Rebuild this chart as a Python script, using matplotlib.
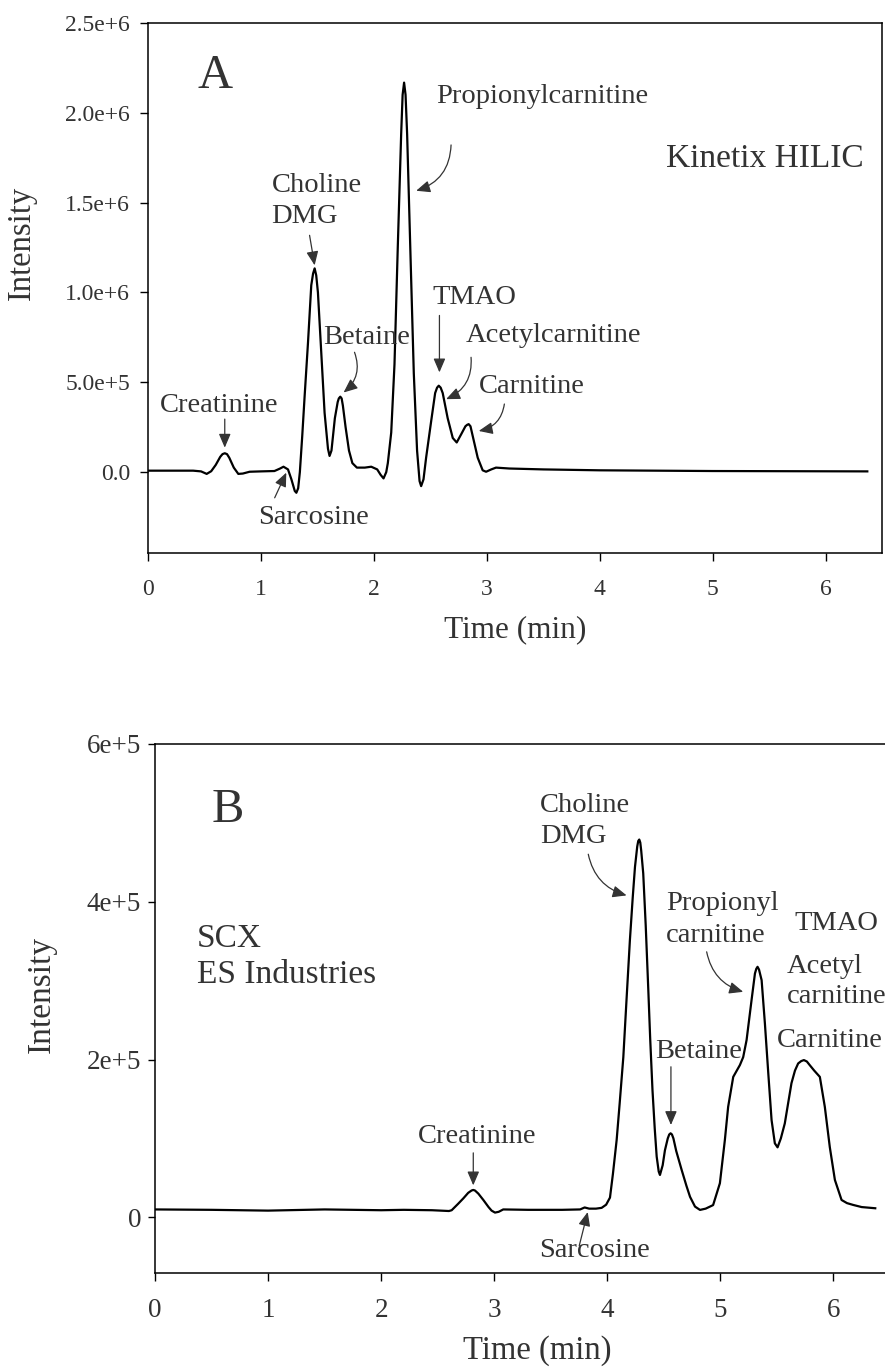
import numpy as np
import matplotlib
matplotlib.use("Agg")
import matplotlib.pyplot as plt

plt.rcParams['font.family'] = ['Liberation Serif', 'DejaVu Serif']

# --- Panel A: Kinetix HILIC (time in min, intensity in 1e6) ---
time_a = [0.00, 0.20, 0.40, 0.47, 0.52, 0.56, 0.60, 0.64, 0.66, 0.68, 0.70, 0.72, 0.76, 0.80, 0.84,
          0.90, 1.00, 1.12, 1.17, 1.20, 1.24, 1.27, 1.30, 1.314, 1.33, 1.345, 1.366, 1.387,
          1.417, 1.446, 1.462, 1.476, 1.49, 1.505, 1.535, 1.564, 1.594, 1.608, 1.625, 1.655, 1.68,
          1.69, 1.703, 1.715, 1.726, 1.75, 1.78, 1.81, 1.85, 1.92, 1.977, 2.03, 2.06, 2.086, 2.11,
          2.124, 2.154, 2.183, 2.212, 2.242, 2.255, 2.268, 2.281, 2.295, 2.325, 2.354, 2.383,
          2.405, 2.419, 2.44, 2.463, 2.507, 2.543, 2.56, 2.575, 2.592, 2.61, 2.654, 2.699, 2.734,
          2.773, 2.811, 2.826, 2.84, 2.856, 2.876, 2.92, 2.964, 2.994, 3.04, 3.082, 3.2, 3.5,
          4.0, 5.0, 6.37]
inten_a = [0.008, 0.008, 0.008, 0.004, -0.010, 0.005, 0.040, 0.085, 0.100, 0.105, 0.100, 0.080, 0.025, -0.010, -0.008,
           0.002, 0.004, 0.006, 0.020, 0.030, 0.015, -0.040, -0.105, -0.115, -0.09, 0.00, 0.20, 0.42,
           0.72, 1.04, 1.105, 1.134, 1.095, 1.00, 0.66, 0.33, 0.13, 0.09, 0.12, 0.30, 0.39,
           0.41, 0.42, 0.41, 0.37, 0.25, 0.12, 0.05, 0.025, 0.025, 0.030, 0.015, -0.015, -0.035, 0.00,
           0.05, 0.22, 0.60, 1.25, 1.88, 2.10, 2.168, 2.10, 1.88, 1.20, 0.55, 0.12,
           -0.05, -0.078, -0.04, 0.08, 0.28, 0.44, 0.47, 0.481, 0.47, 0.44, 0.30, 0.19, 0.165,
           0.21, 0.255, 0.263, 0.267, 0.255, 0.20, 0.08, 0.01, 0.002, 0.015, 0.025, 0.02, 0.015,
           0.01, 0.006, 0.004]

# label text, x, y (baseline, 1e6)
labels_a = [("Creatinine", 0.105, 0.332), ("Sarcosine", 0.974, -0.291),
            ("Choline", 1.093, 1.560), ("DMG", 1.093, 1.384),
            ("Betaine", 1.549, 0.714), ("Propionylcarnitine", 3.487, 2.055),
            ("TMAO", 2.522, 0.937), ("Acetylcarnitine", 2.813, 0.723),
            ("Carnitine", 2.928, 0.443)]
# arrows: tail (x, y), head (x, y), curvature
arrows_a = [((0.680, 0.295), (0.680, 0.136), 0.0),
            ((1.122, -0.143), (1.225, -0.003), 0.0),
            ((1.431, 1.318), (1.476, 1.151), 0.0),
            ((1.829, 0.667), (1.732, 0.443), -0.35),
            ((2.684, 1.821), (2.375, 1.566), -0.35),
            ((2.581, 0.872), (2.581, 0.555), 0.0),
            ((2.861, 0.639), (2.640, 0.406), -0.35),
            ((3.156, 0.379), (2.929, 0.229), -0.35)]

# --- Panel B: SCX ES Industries (time in min, intensity in 1e5) ---
time_b = [0.00, 0.5, 1.0, 1.5, 2.0, 2.2, 2.45, 2.6, 2.624, 2.68, 2.727, 2.77, 2.80, 2.815, 2.83,
          2.86, 2.904, 2.95, 2.977, 3.007, 3.04, 3.08, 3.3, 3.6, 3.76, 3.80, 3.84, 3.90, 3.95, 3.99,
          4.024, 4.05, 4.083, 4.11, 4.142, 4.17, 4.20, 4.225, 4.245, 4.265, 4.274, 4.283, 4.292,
          4.30, 4.318, 4.34, 4.363, 4.38, 4.40, 4.42, 4.437, 4.455, 4.466, 4.49, 4.51, 4.535,
          4.548, 4.56, 4.572, 4.585, 4.61, 4.658, 4.70, 4.732, 4.776, 4.82, 4.87, 4.936, 4.996,
          5.04, 5.069, 5.114, 5.173, 5.202, 5.232, 5.276, 5.306, 5.318, 5.329, 5.342, 5.365,
          5.394, 5.424, 5.453, 5.482, 5.506, 5.535, 5.57, 5.60, 5.629, 5.66, 5.688, 5.715, 5.739,
          5.765, 5.79, 5.83, 5.88, 5.924, 5.968, 6.013, 6.072, 6.12, 6.175, 6.25, 6.37]
inten_b = [0.10, 0.095, 0.085, 0.10, 0.09, 0.095, 0.09, 0.08, 0.09, 0.17, 0.24, 0.31, 0.34, 0.347, 0.34,
           0.30, 0.22, 0.13, 0.085, 0.06, 0.07, 0.10, 0.095, 0.095, 0.10, 0.125, 0.11, 0.11, 0.12, 0.16,
           0.25, 0.55, 0.98, 1.45, 2.03, 2.75, 3.51, 4.05, 4.44, 4.70, 4.77, 4.788, 4.75,
           4.65, 4.36, 3.70, 2.88, 2.25, 1.61, 1.12, 0.77, 0.58, 0.537, 0.66, 0.85, 1.00,
           1.05, 1.065, 1.05, 1.00, 0.84, 0.60, 0.40, 0.26, 0.136, 0.094, 0.11, 0.155, 0.432,
           0.98, 1.40, 1.78, 1.93, 2.03, 2.246, 2.753, 3.09, 3.15, 3.175, 3.14, 3.006,
           2.458, 1.825, 1.233, 0.938, 0.887, 1.00, 1.19, 1.45, 1.70, 1.86, 1.95, 1.98, 1.993,
           1.975, 1.93, 1.86, 1.78, 1.40, 0.89, 0.474, 0.22, 0.18, 0.157, 0.13, 0.115]

labels_b = [("Creatinine", 2.328, 0.945), ("Sarcosine", 3.393, -0.50),
            ("Choline", 3.402, 5.139), ("DMG", 3.402, 4.739),
            ("Propionyl", 4.519, 3.893), ("carnitine", 4.519, 3.491),
            ("TMAO", 5.659, 3.639), ("Acetyl", 5.585, 3.091), ("carnitine", 5.585, 2.711),
            ("Carnitine", 5.497, 2.162), ("Betaine", 4.421, 2.015)]
arrows_b = [((2.815, 0.817), (2.815, 0.405), 0.0),
            ((3.752, -0.361), (3.827, 0.067), 0.0),
            ((3.832, 4.602), (4.171, 4.080), 0.3),
            ((4.879, 3.365), (5.202, 2.858), 0.3),
            ((4.563, 1.908), (4.563, 1.170), 0.0)]

txt_color = '#333333'

fig = plt.figure(figsize=(8.85, 13.67), dpi=100)

# ---------- A ----------
ax1 = fig.add_axes([0.1672, 0.5955, 0.8294, 0.3877])
ax1.plot(time_a, np.array(inten_a) * 1e6, color='black', lw=1.6,
         solid_joinstyle='round')
ax1.set_xlim(0, 6.5)
ax1.set_ylim(-0.45e6, 2.5e6)
ax1.set_xticks(range(7))
ax1.set_yticks([0, 0.5e6, 1.0e6, 1.5e6, 2.0e6, 2.5e6],
               ['0.0', '5.0e+5', '1.0e+6', '1.5e+6', '2.0e+6', '2.5e+6'])
ax1.tick_params(axis='y', direction='out', length=6, width=1, pad=7,
                labelsize=17, labelcolor=txt_color)
ax1.tick_params(axis='x', direction='out', length=6, width=1, pad=13,
                labelsize=17, labelcolor=txt_color)
ax1.set_xlabel('Time (min)', fontsize=22.5, color=txt_color)
ax1.set_ylabel('Intensity', fontsize=23.5, color=txt_color)
ax1.xaxis.set_label_coords(0.5, -0.118)
ax1.yaxis.set_label_coords(-0.151, 0.585)
for sp in ax1.spines.values():
    sp.set_linewidth(1.1)

ax1.text(0.592, 2.206e6, 'A', fontsize=35, ha='center', va='center', color=txt_color)
ax1.text(5.459, 1.698e6, 'Kinetix HILIC', fontsize=24, ha='center', va='baseline', color=txt_color)
for lab, x, y in labels_a:
    ax1.text(x, y * 1e6, lab, fontsize=20.5, ha='center' if lab == "Propionylcarnitine" else 'left',
             va='baseline', color=txt_color)
for (x0, y0), (x1, y1), rad in arrows_a:
    ax1.annotate('', xy=(x1, y1 * 1e6), xytext=(x0, y0 * 1e6),
                 arrowprops=dict(arrowstyle='-|>,head_length=0.7,head_width=0.3',
                                 connectionstyle='arc3,rad=%g' % rad, color=txt_color,
                                 lw=0.9, shrinkA=0, shrinkB=0, mutation_scale=12))

# ---------- B ----------
ax2 = fig.add_axes([0.1751, 0.0688, 0.8305, 0.3870])
ax2.plot(time_b, np.array(inten_b) * 1e5, color='black', lw=1.6,
         solid_joinstyle='round')
ax2.set_xlim(0, 6.5)
ax2.set_ylim(-0.705e5, 6e5)
ax2.set_xticks(range(7))
ax2.set_yticks([0, 2e5, 4e5, 6e5], ['0', '2e+5', '4e+5', '6e+5'])
ax2.tick_params(axis='y', direction='out', length=5, width=1, pad=5,
                labelsize=19.5, labelcolor=txt_color)
ax2.tick_params(axis='x', direction='out', length=6, width=1, pad=12,
                labelsize=19.5, labelcolor=txt_color)
ax2.set_xlabel('Time (min)', fontsize=23.5, color=txt_color)
ax2.set_ylabel('Intensity', fontsize=24, color=txt_color)
ax2.xaxis.set_label_coords(0.52, -0.117)
ax2.yaxis.set_label_coords(-0.134, 0.526)
for sp in ax2.spines.values():
    sp.set_linewidth(1.1)

ax2.text(0.647, 5.165e5, 'B', fontsize=35, ha='center', va='center', color=txt_color)
ax2.text(0.370, 3.428e5, 'SCX', fontsize=24, ha='left', va='baseline', color=txt_color)
ax2.text(0.370, 2.972e5, 'ES Industries', fontsize=24, ha='left', va='baseline', color=txt_color)
for lab, x, y in labels_b:
    ax2.text(x, y * 1e5, lab, fontsize=20.5, ha='left', va='baseline', color=txt_color)
for (x0, y0), (x1, y1), rad in arrows_b:
    ax2.annotate('', xy=(x1, y1 * 1e5), xytext=(x0, y0 * 1e5),
                 arrowprops=dict(arrowstyle='-|>,head_length=0.7,head_width=0.3',
                                 connectionstyle='arc3,rad=%g' % rad, color=txt_color,
                                 lw=0.9, shrinkA=0, shrinkB=0, mutation_scale=12))

fig.savefig('out.png', dpi=100)
